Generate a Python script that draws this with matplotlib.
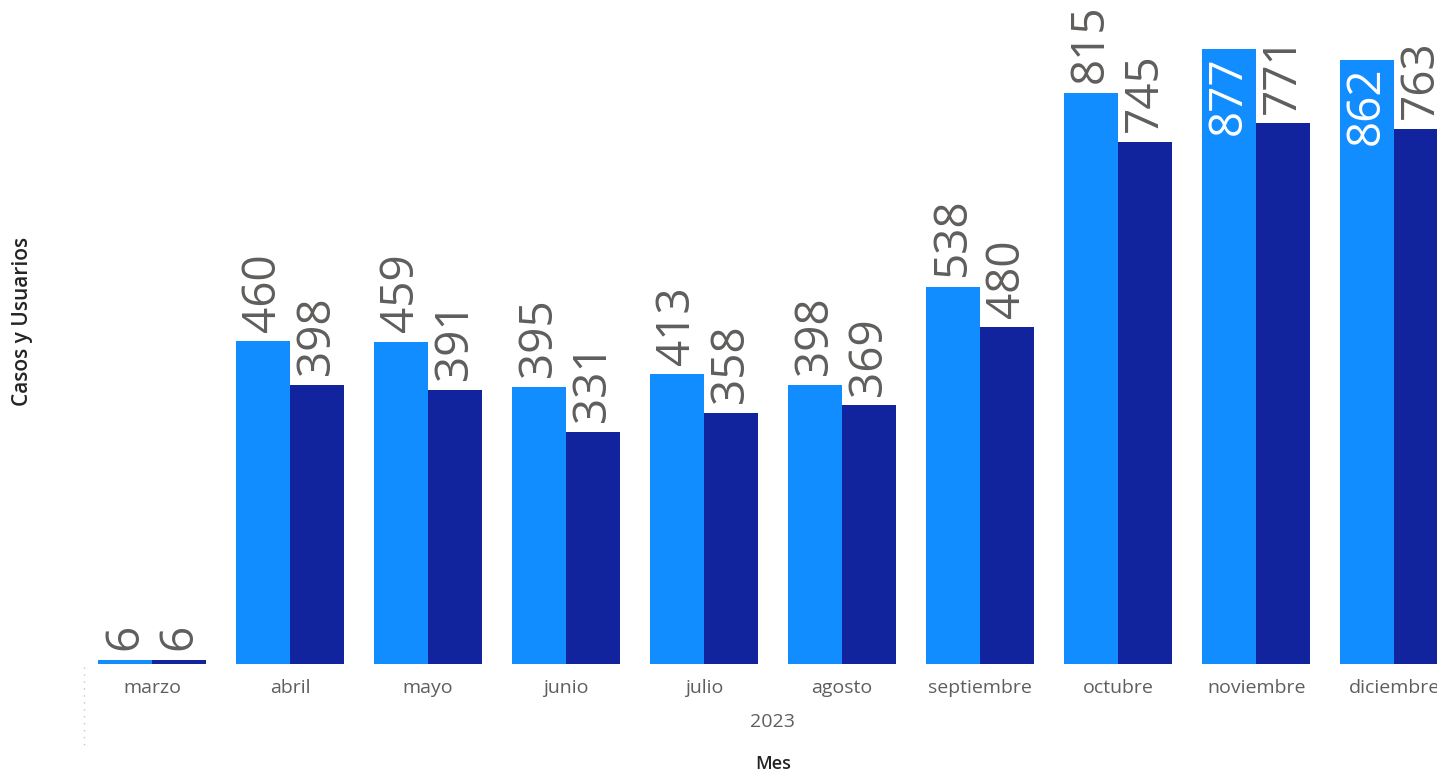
import matplotlib
matplotlib.use("Agg")
import matplotlib.pyplot as plt
from matplotlib.lines import Line2D
import numpy as np

meses = ["marzo", "abril", "mayo", "junio", "julio", "agosto",
         "septiembre", "octubre", "noviembre", "diciembre"]
casos = [6, 460, 459, 395, 413, 398, 538, 815, 877, 862]
usuarios = [6, 398, 391, 331, 358, 369, 480, 745, 771, 763]
anio = "2023"

c_light = "#118DFF"
c_dark = "#12239E"
c_lbl = "#605E5C"

W, H = 1437, 772
fig = plt.figure(figsize=(W / 100, H / 100), dpi=100)
ax = fig.add_axes([84 / W, (H - 664) / H, 1 - 84 / W, 664 / H])

x = np.arange(len(meses))
bw = 0.391
b1 = ax.bar(x - bw / 2, casos, width=bw, color=c_light, edgecolor="none")
b2 = ax.bar(x + bw / 2, usuarios, width=bw, color=c_dark, edgecolor="none")

ax.set_xlim(-0.493, 9.31)
ax.set_ylim(0, 947)

font = "Open Sans"
fs = 33
inside = {8, 9}
for i, v in enumerate(casos):
    if i in inside:
        ax.annotate(str(v), (x[i] - bw / 2, v), xytext=(0, -5), textcoords="offset points",
                    rotation=90, ha="center", va="top", fontsize=fs, color="white",
                    family=font, annotation_clip=False)
    else:
        ax.annotate(str(v), (x[i] - bw / 2, v), xytext=(0, 7), textcoords="offset points",
                    rotation=90, ha="center", va="bottom", fontsize=fs, color=c_lbl,
                    family=font, annotation_clip=False)
for i, v in enumerate(usuarios):
    ax.annotate(str(v), (x[i] + bw / 2, v), xytext=(0, 7), textcoords="offset points",
                rotation=90, ha="center", va="bottom", fontsize=fs, color=c_lbl,
                family=font, annotation_clip=False)

ax.set_xticks(x)
ax.set_xticklabels(meses, fontsize=14, color=c_lbl, family=font)
ax.tick_params(axis="x", length=0, pad=11)
ax.set_yticks([])
for s in ax.spines.values():
    s.set_visible(False)

fig.text(772 / W, 1 - 722 / H, anio, ha="center", va="center", fontsize=14,
         color=c_lbl, family=font)
fig.text(773 / W, 1 - 764 / H, "Mes", ha="center", va="center", fontsize=13,
         color="#252423", family=font, fontweight="semibold")
fig.text(23 / W, 1 - 321 / H, "Casos y Usuarios", ha="center", va="center", rotation=90,
         fontsize=15, color="#252423", family=font, fontweight="semibold")

fig.add_artist(Line2D([84 / W, 84 / W], [1 - 667 / H, 1 - 745 / H], transform=fig.transFigure,
                      color="#C8C6C4", linewidth=1, linestyle=(0, (1, 4))))

fig.savefig("out.png", dpi=100)
